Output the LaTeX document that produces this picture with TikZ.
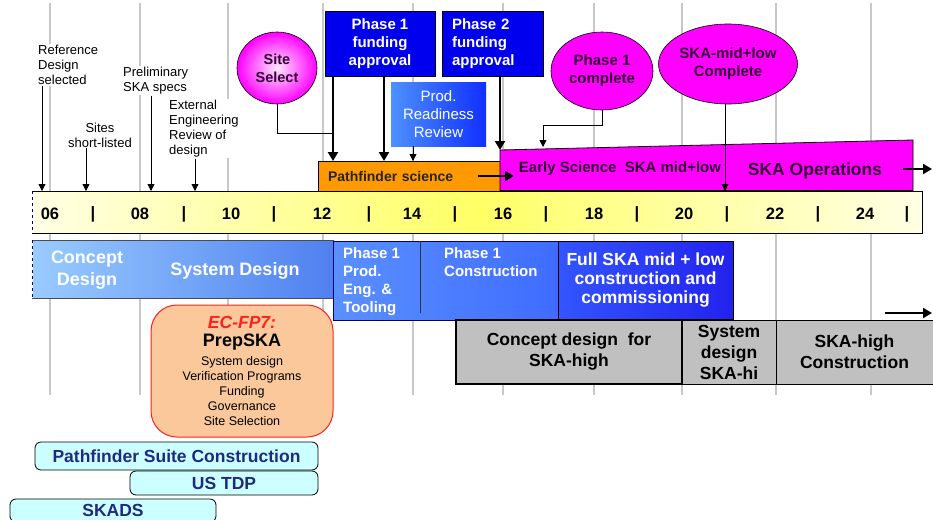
\documentclass[tikz,border=0pt]{standalone}
\usepackage{fontspec}
\setmainfont{Liberation Sans}
\usetikzlibrary{arrows.meta,shapes.geometric}
\definecolor{gridc}{HTML}{C8C8C8}
\definecolor{fundblue}{HTML}{0000EE}
\definecolor{mag}{HTML}{FF00FF}
\definecolor{magtext}{HTML}{330033}
\definecolor{pforange}{HTML}{FF9900}
\definecolor{grayb}{HTML}{C0C0C0}
\definecolor{cyanb}{HTML}{CCFFFF}
\definecolor{navy}{HTML}{1F2A80}
\definecolor{prepfill}{HTML}{FAC89A}
\definecolor{prepred}{HTML}{FF2020}
\definecolor{ylight}{HTML}{FFFFE4}
\definecolor{ymid}{HTML}{FFFF66}
\definecolor{bandl}{HTML}{99CCFF}
\definecolor{bandm}{HTML}{8CBEFF}
\definecolor{bandr}{HTML}{4F80F0}
\definecolor{p1l}{HTML}{5A90FF}
\definecolor{p1r}{HTML}{3F6CFF}
\definecolor{fulll}{HTML}{3355FF}
\definecolor{fullr}{HTML}{2222EE}
\definecolor{prrl}{HTML}{4D90FF}
\definecolor{prrr}{HTML}{1030FF}
\definecolor{sitein}{HTML}{FFE8FF}
\newcommand{\myfs}[2]{\fontsize{#1}{#2}\selectfont}
\begin{document}
\begin{tikzpicture}[x=1pt,y=-1pt,
  gridline/.style={draw=gridc, line width=1.3pt},
  note/.style={fill=white, inner sep=1pt, align=left, font=\myfs{13}{15}},
  thinarr/.style={draw=black, line width=0.8pt, -{Triangle[length=7pt,width=7pt]}},
  thickarr/.style={draw=black, line width=2.6pt, -{Triangle[length=9pt,width=10pt]}},
  fundbox/.style={draw=black, line width=0.8pt, fill=fundblue, text=white, font=\bfseries\myfs{15}{18}, inner sep=0pt, outer sep=0pt},
  magell/.style={ellipse, draw=black, line width=0.6pt, fill=mag, text=magtext, align=center, inner sep=0pt, outer sep=0pt},
  ticklbl/.style={font=\bfseries\myfs{16.5}{18}, inner sep=0pt},
  bandtext/.style={text=white, font=\bfseries\myfs{18}{22}, align=center, inner sep=0pt},
  phtext/.style={text=white, font=\bfseries\myfs{15}{18}, align=left, inner sep=0pt, anchor=north west},
  graybox/.style={draw=black, fill=grayb, inner sep=0pt, outer sep=0pt, align=center, font=\bfseries\myfs{17.5}{21}},
  cyanbox/.style={draw=black, line width=0.8pt, fill=cyanb, rounded corners=6pt, inner sep=0pt, outer sep=0pt, text=navy, font=\bfseries\myfs{17.5}{20}},
]
\useasboundingbox (0,0) rectangle (933,519);
\fill[white] (0,0) rectangle (933,519);

% grid lines
\foreach \gx in {50,140,228,323,413,503,594,682,776,871}
  \draw[gridline] (\gx,3) -- (\gx,395);

% timeline bar
\node[draw=black, line width=1pt, left color=ylight, right color=ylight, middle color=ymid,
      minimum width=890pt, minimum height=42pt, inner sep=0pt, outer sep=0pt] (tl) at (477,212) {};
\draw[white, line width=1.4pt] (tl.north west) -- (tl.south west);
\draw[blue!50!black, dashed, line width=0.8pt] (tl.north west) -- (tl.south west);
\foreach \x/\t in {50/06,93/|,140/08,184/|,231/10,274/|,322/12,369/|,412/14,455/|,503/16,546/|,594/18,637/|,684/20,727/|,775/22,818/|,865/24,907/|}
  \node[ticklbl] at (\x,214) {\t};

% milestone coordinates on the timeline
\coordinate (mRef) at (42,191);
\coordinate (mSites) at (86,191);
\coordinate (mPre) at (151,191);
\coordinate (mExt) at (195,191);
\coordinate (mSk) at (725,191);

% early milestones
\node[note, anchor=north west] (ref) at (37,44) {Reference\\Design\\selected};
\node[note, align=center] (sites) at (100,135) {Sites\\short-listed};
\node[note, anchor=north west] (prelim) at (122,66) {Preliminary\\SKA specs};
\node[note, anchor=north west] (ext) at (168,99) {External\\Engineering\\Review of\\design};
\draw[thinarr] (ref.south -| mRef) -- (mRef);
\draw[thinarr] (sites.south -| mSites) -- (mSites);
\draw[thinarr] (prelim.south -| mPre) -- (mPre);
\draw[thinarr] (ext.south -| mExt) -- (mExt);

% pathfinder science
\node[draw=black, line width=0.8pt, fill=pforange, minimum width=182pt, minimum height=30pt,
      inner xsep=10pt, inner ysep=0pt, text width=162pt, align=left, outer sep=0pt,
      font=\bfseries\myfs{14}{16}, text=black!85] (pfs) at (409,176) {Pathfinder science};

% magenta band
\coordinate (esTL) at (500,150);
\coordinate (esTR) at (913,140);
\coordinate (esBR) at (913,190.5);
\coordinate (esBL) at (500,190.5);
\draw[fill=mag, line width=0.8pt] (esTL) -- (esTR) -- (esBR) -- (esBL) -- cycle;
\node[font=\bfseries\myfs{15}{17}, text=magtext] (est) at (620,169) {Early Science\ \ SKA mid+low};
\node[font=\bfseries\myfs{17.5}{20}, text=magtext] (ops) at (815,171) {SKA Operations};
\coordinate (opsA) at (903,169);
\coordinate (opsB) at (932,169);
\draw[thickarr] (opsA) -- (opsB);
\draw[thickarr] ([xshift=-22pt]pfs.east) -- ([xshift=14pt]pfs.east);

% site select
\node[ellipse, draw=black, line width=0.6pt, inner color=sitein, outer color=mag,
      minimum width=80pt, minimum height=72pt, inner sep=0pt, outer sep=0pt,
      align=center, font=\bfseries\myfs{14.5}{18}, text=magtext] (site) at (277,68) {Site\\Select};

% funding boxes
\node[fundbox, align=center, minimum width=110pt, minimum height=65pt] (f1) at (380,43.5) {Phase 1\\funding\\approval};
\node[fundbox, align=left, inner xsep=10pt, text width=81pt, minimum height=65pt] (f2) at (492.5,43.5) {Phase 2\\funding\\approval};
\node[left color=prrl, right color=prrr, minimum width=95pt, minimum height=64pt, inner sep=0pt, outer sep=0pt,
      text=white, font=\myfs{15}{18}, align=center] (prr) at (438.5,114) {Prod.\\Readiness\\Review};

\coordinate (pA) at (333,161);
\coordinate (pB) at (384,161);
\coordinate (pC) at (413,161);
\coordinate (pD) at (500,150);
\coordinate (sj) at (333,133);
\draw[line width=0.8pt] (site.south) |- (sj);
\draw[thickarr] (f1.south -| pA) -- (pA);
\draw[thickarr] (f1.south -| pB) -- (pB);
\draw[thinarr] (prr.south -| pC) -- (pC);
\draw[thickarr] (f2.south -| pD) -- (pD);

% completion ellipses
\node[magell, minimum width=102pt, minimum height=78pt, font=\bfseries\myfs{15}{18}] (p1c) at (602,71) {Phase 1\\complete};
\node[magell, minimum width=139pt, minimum height=80pt, font=\bfseries\myfs{15}{18}] (skac) at (728,64) {SKA-mid+low\\Complete};
\coordinate (esj) at (543,125);
\coordinate (esTop) at (543,147);
\draw[thinarr] (p1c.south) |- (esj) -- (esTop);
\draw[thinarr] (skac.south -| mSk) -- (mSk);

% lower design band
\node[draw=black!70, line width=0.6pt, left color=bandl, middle color=bandm, right color=bandr,
      minimum width=301pt, minimum height=58pt, inner sep=0pt, outer sep=0pt] (band) at (182.5,269) {};
\draw[white, line width=1.2pt] (band.north west) -- (band.south west);
\draw[blue!50!black, dashed, line width=0.8pt] (band.north west) -- (band.south west);
\node[bandtext] (cd) at (87,270) {Concept\\Design};
\node[bandtext] (sd) at (235,271) {System Design};

\node[draw=blue!40!black, line width=0.6pt, left color=p1l, right color=p1r,
      minimum width=225pt, minimum height=79pt, inner sep=0pt, outer sep=0pt] (p1b) at (445.5,280.5) {};
\coordinate (divB) at (420,313);
\draw[line width=0.8pt, black!80] (p1b.north -| divB) -- (divB);
\node[phtext] (p1pe) at (343,247.5) {Phase 1\\Prod.\\Eng. \&\\Tooling};
\node[phtext] (p1co) at (444,247.5) {Phase 1\\Construction};

\node[draw=black, line width=0.6pt, left color=fulll, right color=fullr, minimum width=175pt, minimum height=78pt,
      inner sep=0pt, outer sep=0pt, text=white, font=\bfseries\myfs{17.5}{19}, align=center] (full) at (645.5,280) {Full SKA mid + low\\construction and\\commissioning};

% SKA-high boxes
\node[graybox, line width=2pt, minimum width=226pt, minimum height=64pt] (cdh) at (569,352) {Concept design\ \ for\\SKA-high};
\node[graybox, line width=0.8pt, minimum width=94pt, minimum height=64pt] (sysd) at (729,352) {System\\design\\SKA-hi};
\node[graybox, line width=0.8pt, minimum width=157pt, minimum height=64pt] (skah) at (854.5,352) {SKA-high\\Construction};
\coordinate (hA) at (885,313);
\coordinate (hB) at (932,313);
\draw[thickarr] (hA) -- (hB);

% PrepSKA
\node[draw=prepred, line width=1pt, fill=prepfill, rounded corners=26pt, minimum width=182pt, minimum height=132pt,
      inner sep=0pt, outer sep=0pt] (prep) at (242,371) {};
\node[text=prepred, font=\bfseries\itshape\myfs{17.5}{20}, inner sep=0pt] (ecfp) at (242,322) {EC-FP7:};
\node[font=\bfseries\myfs{18}{20}, inner sep=0pt] (prepn) at (242,342) {PrepSKA};
\node[font=\myfs{12.5}{15}, align=center, inner sep=0pt] (prepl) at (242,391) {System design\\Verification Programs\\Funding\\Governance\\Site Selection};

% pathfinder programmes
\node[cyanbox, minimum width=283pt, minimum height=28pt] (psc) at (176.5,456) {Pathfinder Suite Construction};
\node[cyanbox, minimum width=188pt, minimum height=24pt] (ustdp) at (224,483) {US TDP};
\node[cyanbox, minimum width=206pt, minimum height=23pt] (skads) at (113,510.5) {SKADS};
\end{tikzpicture}
\end{document}
